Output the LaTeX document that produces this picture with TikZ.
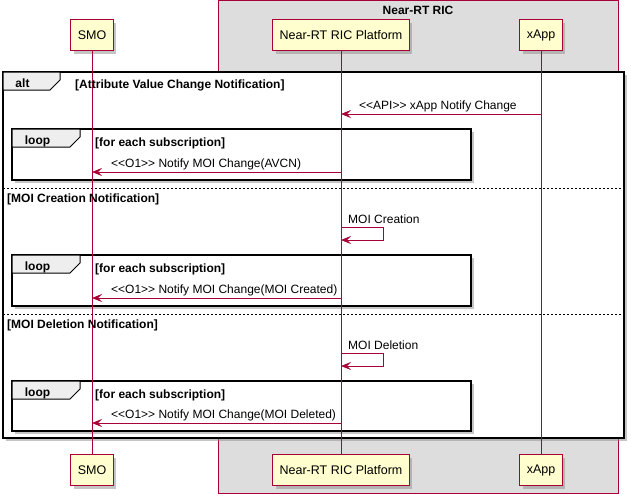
\documentclass[tikz,border=0pt]{standalone}
\usepackage{fontspec}
\setmainfont{Liberation Sans}
\usetikzlibrary{arrows.meta,calc,positioning,shadows}

\definecolor{umlred}{HTML}{A80036}
\definecolor{umlyellow}{HTML}{FEFECE}
\definecolor{umlgrey}{HTML}{DDDDDD}
\definecolor{tabgrey}{HTML}{EEEEEE}

\begin{document}
\begin{tikzpicture}[x=1pt, y=-1pt,
    actor/.style={draw=umlred, fill=umlyellow, line width=1pt, minimum height=31pt,
      inner xsep=7pt, font=\fontsize{12.5}{14}\selectfont,
      drop shadow={shadow xshift=3pt, shadow yshift=-3pt, fill=black!45}},
    lifeline/.style={draw=umlred, line width=0.8pt},
    msg/.style={draw=umlred, line width=0.8pt, -{Stealth[length=10pt, width=8pt, inset=4pt]}},
    lbl/.style={font=\fontsize{12}{14}\selectfont, inner sep=0pt, anchor=west},
    guard/.style={font=\bfseries\fontsize{12}{14}\selectfont, inner sep=0pt, anchor=west},
    frm/.style={draw=black, line width=1.5pt, fill=white,
      drop shadow={shadow xshift=3pt, shadow yshift=-3pt, fill=black!45}},
    tab/.style={draw=black, line width=1pt, fill=tabgrey},
    sep/.style={draw=black, line width=0.7pt, dash pattern=on 2pt off 2pt}]

  \useasboundingbox (0,0) rectangle (631,495);

  % Near-RT RIC box
  \draw [fill=umlgrey, draw=umlred, line width=1pt] (218.5,0.5) rectangle (618.5,493.5);
  \node [font=\bfseries\fontsize{12}{14}\selectfont] (ric) at (418,10) {Near-RT RIC};

  % alt frame
  \path [frm] (3,72) rectangle (624,438);
  \draw [tab] (3,72) -- (60,72) -- (60,80) -- (50,90) -- (3,90) -- cycle;
  \node [font=\bfseries\fontsize{12}{14}\selectfont] (alt) at (22.5,83) {alt};
  \draw [sep] (3,188) -- (624,188);
  \draw [sep] (3,314) -- (624,314);

  % loop frames
  \foreach \top/\bot/\name in {129/180/loopa, 255/306/loopb, 381/431/loopc} {
    \path [frm] (12,\top) rectangle (471,\bot);
    \draw [tab] (12,\top) -- (80,\top) -- (80,\top+8) -- (70,\top+18) -- (12,\top+18) -- cycle;
    \node [font=\bfseries\fontsize{12}{14}\selectfont] (\name) at (37.5,\top+12) {loop};
    \node [guard] at (95,\top+14) {[for each subscription]};
  }

  % participants
  \node [actor] (smo) at (92,35.5) {SMO};
  \node [actor] (plat) at (341,35.5) {Near-RT RIC Platform};
  \node [actor] (xapp) at (541,35.5) {xApp};
  \node [actor] (smob) at (92,470) {SMO};
  \node [actor] (platb) at (341,470) {Near-RT RIC Platform};
  \node [actor] (xappb) at (541,470) {xApp};

  \draw [lifeline] (smo) -- (smob);
  \draw [lifeline] (plat) -- (platb);
  \draw [lifeline] (xapp) -- (xappb);

  % guards
  \node [guard] at (75,85) {[Attribute Value Change Notification]};
  \node [guard] at (7,199) {[MOI Creation Notification]};
  \node [guard] at (7,325) {[MOI Deletion Notification]};

  % messages
  \draw [msg] (xapp |- 0,114) -- (plat |- 0,114);
  \node [lbl] at (359,106) {<{}<API>{}> xApp Notify Change};

  \draw [msg] (plat |- 0,172) -- (smo |- 0,172);
  \node [lbl] at (111,164) {<{}<O1>{}> Notify MOI Change(AVCN)};

  \draw [msg] (plat |- 0,227) -- ++(42,0) -- ++(0,13) -- (plat |- 0,240);
  \node [lbl] at (348,219) {MOI Creation};

  \draw [msg] (plat |- 0,298) -- (smo |- 0,298);
  \node [lbl] at (111,290) {<{}<O1>{}> Notify MOI Change(MOI Created)};

  \draw [msg] (plat |- 0,353) -- ++(42,0) -- ++(0,13) -- (plat |- 0,366);
  \node [lbl] at (348,345) {MOI Deletion};

  \draw [msg] (plat |- 0,423) -- (smo |- 0,423);
  \node [lbl] at (111,415) {<{}<O1>{}> Notify MOI Change(MOI Deleted)};

\end{tikzpicture}
\end{document}
